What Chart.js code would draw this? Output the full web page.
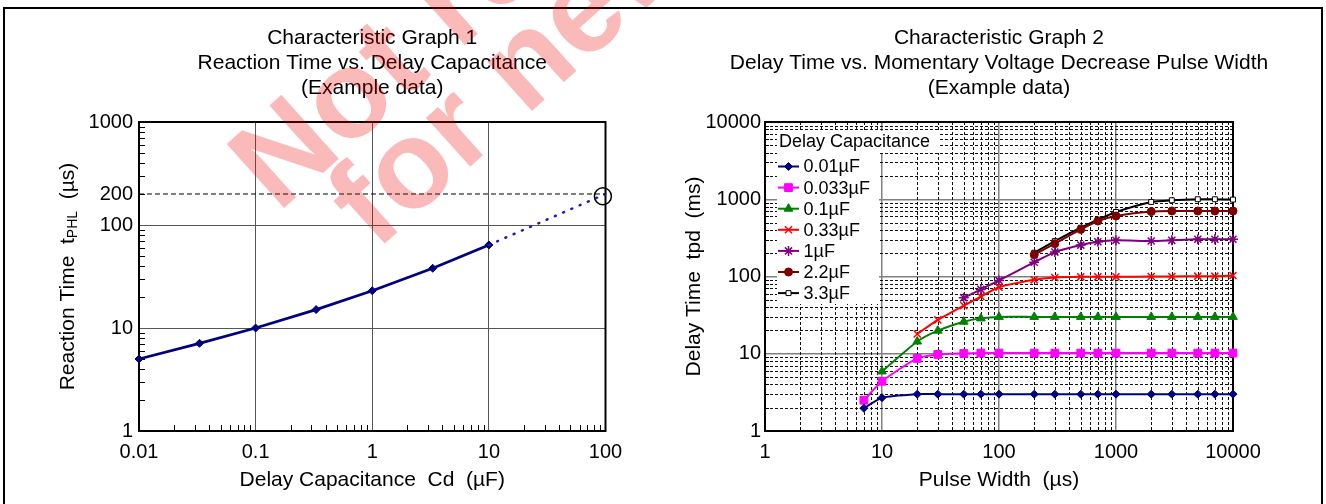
<!DOCTYPE html>
<html>
<head>
<meta charset="utf-8">
<title>Characteristic Graphs</title>
<script src="https://cdn.jsdelivr.net/npm/chart.js@4"></script>
<style>
    html, body { margin: 0; padding: 0; background: #fff; }
    #page { position: relative; width: 1326px; height: 504px; overflow: hidden; background: #fff; }
    #frame { position: absolute; left: 3px; top: 7px; width: 1320px; height: 520px; border: 2px solid #000; box-sizing: border-box; }
    canvas { position: absolute; top: 0; }
    #chart1 { left: 0; }
    #chart2 { left: 663px; }
    .mark {
        position: absolute; white-space: nowrap; line-height: 1;
        font: bold 125px "Liberation Sans", Arial, sans-serif;
        color: rgba(240, 0, 0, 0.27);
        transform-origin: 0 0; transform: rotate(-42deg);
        pointer-events: none;
    }
</style>
</head>
<body>
<div id="page">
    <div id="frame"></div>
    <canvas id="chart1" width="663" height="504"></canvas>
    <canvas id="chart2" width="663" height="504"></canvas>
    <div class="mark" style="left:201px; top:128px;">Not recommended</div>
    <div class="mark" style="left:299px; top:166px;">for new design</div>
</div>
<script>
// Graph 1: reaction time vs. delay capacitance
const capValues = [0.01, 0.033, 0.1, 0.33, 1, 3.3, 10];
const reactionTimes = [5.0, 7.1, 10, 15.1, 23, 38, 64];
const extrapolatedCap = [10, 100];
const extrapolatedTime = [64, 200];
const markedCap = [95];
const markedTime = [190];
const limitCap = [0.01, 100];
const limitTime = [200, 200];
const capTicks = [0.01, 0.1, 1, 10, 100];
const reactionTicks = [1, 10, 100, 200, 1000];

// Graph 2: delay time vs. pulse width
const pulseWidths = [7, 10, 20, 30, 50, 70, 100, 200, 300, 500, 700, 1000, 2000, 3000, 5000, 7000, 10000];
const delay001 = [1.97, 2.7, 3.0, 3.0, 3.0, 3.0, 3.0, 3.0, 3.0, 3.0, 3.0, 3.0, 3.0, 3.0, 3.0, 3.0, 3.0];
const delay0033 = [2.5, 4.4, 8.7, 9.8, 10.1, 10.2, 10.2, 10.2, 10.2, 10.2, 10.2, 10.2, 10.2, 10.2, 10.2, 10.2, 10.2];
const delay01 = [null, 5.9, 14.4, 19.9, 26, 28.7, 30, 30, 30, 30, 30, 30, 30, 30, 30, 30, 30];
const delay033 = [null, null, 18, 27.4, 42, 55, 72.6, 90.6, 97, 99, 99, 99, 100, 100, 101, 101, 103];
const delay1 = [null, null, null, null, 53, 68, 89, 153, 207, 255, 282, 294, 288, 294, 303, 303, 303];
const delay22 = [null, null, null, null, null, null, null, 191, 266, 407, 522, 607, 692, 705, 705, 705, 705];
const delay33 = [null, null, null, null, null, null, null, 203, 287, 428, 544, 684, 923, 970, 1000, 1000, 990];
const capLabels = ['0.01µF', '0.033µF', '0.1µF', '0.33µF', '1µF', '2.2µF', '3.3µF'];
const pulseTicks = [1, 10, 100, 1000, 10000];
const delayTicks = [1, 10, 100, 1000, 10000];

const FONT = '"Liberation Sans", Arial, sans-serif';
Chart.defaults.font.family = FONT;
Chart.defaults.color = '#000';

function toPoints(xs, ys) {
    return xs.map((x, i) => ({ x: x, y: ys[i] })).filter(p => p.y !== null);
}

// 2..9 of every decade between min and max
function minorValues(min, max) {
    const out = [];
    for (let e = Math.floor(Math.log10(min)); e < Math.ceil(Math.log10(max)); e++) {
        for (let m = 2; m <= 9; m++) {
            const v = m * Math.pow(10, e);
            if (v > min && v < max) out.push(v);
        }
    }
    return out;
}

// titles above the plot area
const titleLinesPlugin = {
    id: 'titleLines',
    afterDraw(chart, args, opts) {
        const { ctx, chartArea: a } = chart;
        ctx.save();
        ctx.fillStyle = '#000';
        ctx.font = '21px ' + FONT;
        ctx.textAlign = 'center';
        ctx.textBaseline = 'middle';
        const cx = (a.left + a.right) / 2;
        opts.lines.forEach((t, i) => ctx.fillText(t, cx, 38 + i * 25));
        ctx.restore();
    }
};

// frame, minor ticks and dashed minor grid
const axisFramePlugin = {
    id: 'axisFrame',
    beforeDatasetsDraw(chart, args, opts) {
        const { ctx, chartArea: a, scales } = chart;
        const xs = minorValues(scales.x.min, scales.x.max).map(v => Math.round(scales.x.getPixelForValue(v)) + 0.5);
        const ys = minorValues(scales.y.min, scales.y.max).map(v => Math.round(scales.y.getPixelForValue(v)) + 0.5);
        ctx.save();
        ctx.lineWidth = 1;
        if (opts.minorGrid) {
            ctx.strokeStyle = '#111';
            ctx.setLineDash([3, 2]);
            ctx.beginPath();
            xs.forEach(px => { ctx.moveTo(px, a.top); ctx.lineTo(px, a.bottom); });
            ys.forEach(py => { ctx.moveTo(a.left, py); ctx.lineTo(a.right, py); });
            ctx.stroke();
            ctx.setLineDash([]);
        }
        ctx.strokeStyle = '#000';
        ctx.beginPath();
        xs.forEach(px => { ctx.moveTo(px, a.bottom); ctx.lineTo(px, a.bottom - opts.tick); });
        ys.forEach(py => { ctx.moveTo(a.left, py); ctx.lineTo(a.left + opts.tick, py); });
        ctx.stroke();
        ctx.lineWidth = 2;
        ctx.strokeRect(a.left, a.top, a.right - a.left, a.bottom - a.top);
        ctx.restore();
    }
};

// y title of graph 1 with subscript
const yTitlePlugin = {
    id: 'yTitle',
    afterDraw(chart, args, opts) {
        const { ctx, chartArea: a } = chart;
        const big = '21px ' + FONT, small = '14px ' + FONT;
        const parts = [['Reaction Time  t', big, 0], ['PHL', small, 5], ['  (µs)', big, 0]];
        ctx.save();
        let total = 0;
        parts.forEach(p => { ctx.font = p[1]; total += ctx.measureText(p[0]).width; });
        ctx.translate(opts.x, (a.top + a.bottom) / 2);
        ctx.rotate(-Math.PI / 2);
        ctx.fillStyle = '#000';
        ctx.textBaseline = 'middle';
        let x = -total / 2;
        parts.forEach(p => {
            ctx.font = p[1];
            ctx.fillText(p[0], x, p[2]);
            x += ctx.measureText(p[0]).width;
        });
        ctx.restore();
    }
};

// legend inside the plot area of graph 2
const insideLegendPlugin = {
    id: 'insideLegend',
    beforeDatasetsDraw(chart) {
        const { ctx, chartArea: a } = chart;
        const left = a.left + 12;
        ctx.save();
        ctx.fillStyle = '#fff';
        ctx.fillRect(left, a.top + 9, 163, 22);
        ctx.fillRect(left, a.top + 31, 102, 151);
        ctx.fillStyle = '#000';
        ctx.font = '18px ' + FONT;
        ctx.textBaseline = 'middle';
        ctx.fillText('Delay Capacitance', left + 2, a.top + 20);
        chart.data.datasets.forEach((ds, i) => {
            const y = a.top + 44.5 + i * 21.1;
            ctx.strokeStyle = ds.borderColor;
            ctx.lineWidth = 2;
            ctx.beginPath();
            ctx.moveTo(left + 1, y);
            ctx.lineTo(left + 22, y);
            ctx.stroke();
            ctx.fillStyle = ds.pointBackgroundColor;
            ctx.lineWidth = ds.pointBorderWidth;
            Chart.helpers.drawPoint(ctx, { pointStyle: ds.pointStyle, radius: ds.pointRadius, rotation: 0, borderWidth: ds.pointBorderWidth }, left + 11.5, y);
            ctx.fillStyle = '#000';
            ctx.fillText(ds.label, left + 26.5, y + 1);
        });
        ctx.restore();
    }
};

function logAxis(min, max, tickValues, gridColor, gridWidth) {
    return {
        type: 'logarithmic',
        min: min,
        max: max,
        afterBuildTicks: (scale) => { scale.ticks = tickValues.map(v => ({ value: v })); },
        ticks: {
            autoSkip: false,
            maxRotation: 0,
            font: { size: 20 },
            color: '#000',
            callback: (v) => String(v)
        },
        grid: { color: gridColor, lineWidth: gridWidth, drawTicks: false },
        border: { display: false }
    };
}

function initGraph1() {
    const ctx = document.getElementById('chart1');
    const x = logAxis(0.01, 100, capTicks, '#555', 1);
    x.ticks.padding = 9;
    x.afterFit = (scale) => { scale.height = 73; };
    x.title = { display: true, text: 'Delay Capacitance  Cd  (µF)', font: { size: 21 }, color: '#000', padding: { top: 0, bottom: 11 } };
    const y = logAxis(1, 1000, reactionTicks, (c) => (c.tick && c.tick.value === 200 ? 'rgba(0,0,0,0)' : '#555'), 1);
    y.ticks.padding = 6;
    y.afterFit = (scale) => { scale.width = 139; };

    new Chart(ctx, {
        type: 'line',
        data: {
            datasets: [{
                label: 'limit',
                data: toPoints(limitCap, limitTime),
                borderColor: '#000',
                borderWidth: 1,
                borderDash: [5, 3],
                pointRadius: 0
            }, {
                label: 'extrapolated',
                data: toPoints(extrapolatedCap, extrapolatedTime),
                borderColor: '#1c1cb0',
                borderWidth: 2.5,
                borderDash: [1, 8],
                borderCapStyle: 'round',
                pointRadius: 0
            }, {
                label: 'reaction time',
                data: toPoints(capValues, reactionTimes),
                borderColor: '#000080',
                backgroundColor: '#000080',
                borderWidth: 2.8,
                pointStyle: 'rectRot',
                pointRadius: 4,
                pointBorderWidth: 1
            }, {
                label: 'mark',
                data: toPoints(markedCap, markedTime),
                showLine: false,
                pointStyle: 'circle',
                pointRadius: 8.5,
                pointBorderWidth: 1.5,
                pointBorderColor: '#000',
                pointBackgroundColor: 'rgba(0,0,0,0)'
            }]
        },
        options: {
            responsive: false,
            animation: false,
            clip: false,
            layout: { padding: { left: 0, right: 57.5, top: 122, bottom: 0 } },
            scales: { x: x, y: y },
            plugins: {
                legend: { display: false },
                tooltip: { enabled: false },
                titleLines: { lines: ['Characteristic Graph 1', 'Reaction Time vs. Delay Capacitance', '(Example data)'] },
                axisFrame: { minorGrid: false, tick: 6 },
                yTitle: { x: 68 }
            }
        },
        plugins: [titleLinesPlugin, axisFramePlugin, yTitlePlugin]
    });
}

function initGraph2() {
    const ctx = document.getElementById('chart2');
    const x = logAxis(1, 10000, pulseTicks, '#808080', 1.5);
    x.ticks.padding = 9;
    x.afterFit = (scale) => { scale.height = 73; };
    x.title = { display: true, text: 'Pulse Width  (µs)', font: { size: 21 }, color: '#000', padding: { top: 0, bottom: 11 } };
    const y = logAxis(1, 10000, delayTicks, '#808080', 1.5);
    y.ticks.padding = 4;
    y.afterFit = (scale) => { scale.width = 102; };
    y.title = { display: true, text: 'Delay Time  tpd  (ms)', font: { size: 21 }, color: '#000', padding: { top: 19, bottom: 0 } };

    const series = [delay001, delay0033, delay01, delay033, delay1, delay22, delay33];
    const colors = ['#000080', '#ff00ff', '#008000', '#ff0000', '#800080', '#800000', '#000000'];
    const styles = ['rectRot', 'rect', 'triangle', 'crossRot', 'star', 'circle', 'rect'];
    const radii = [4, 5.5, 5, 5, 5, 4, 3.5];
    const fills = ['#000080', '#ff00ff', '#008000', '#ff0000', '#800080', '#800000', '#ffffff'];

    new Chart(ctx, {
        type: 'line',
        data: {
            datasets: series.map((s, i) => ({
                label: capLabels[i],
                data: toPoints(pulseWidths, s),
                borderColor: colors[i],
                backgroundColor: fills[i],
                borderWidth: 2,
                tension: 0.2,
                pointStyle: styles[i],
                pointRadius: radii[i],
                pointBorderColor: colors[i],
                pointBackgroundColor: fills[i],
                pointBorderWidth: (styles[i] === 'crossRot' || styles[i] === 'star') ? 1.5 : 1
            }))
        },
        options: {
            responsive: false,
            animation: false,
            clip: false,
            layout: { padding: { left: 0, right: 93, top: 122, bottom: 0 } },
            scales: { x: x, y: y },
            plugins: {
                legend: { display: false },
                tooltip: { enabled: false },
                titleLines: { lines: ['Characteristic Graph 2', 'Delay Time vs. Momentary Voltage Decrease Pulse Width', '(Example data)'] },
                axisFrame: { minorGrid: true, tick: 4 }
            }
        },
        plugins: [titleLinesPlugin, axisFramePlugin, insideLegendPlugin]
    });
}

try {
    initGraph1();
    initGraph2();
} catch (error) {
    console.error('chart init failed:', error);
}
</script>
</body>
</html>
